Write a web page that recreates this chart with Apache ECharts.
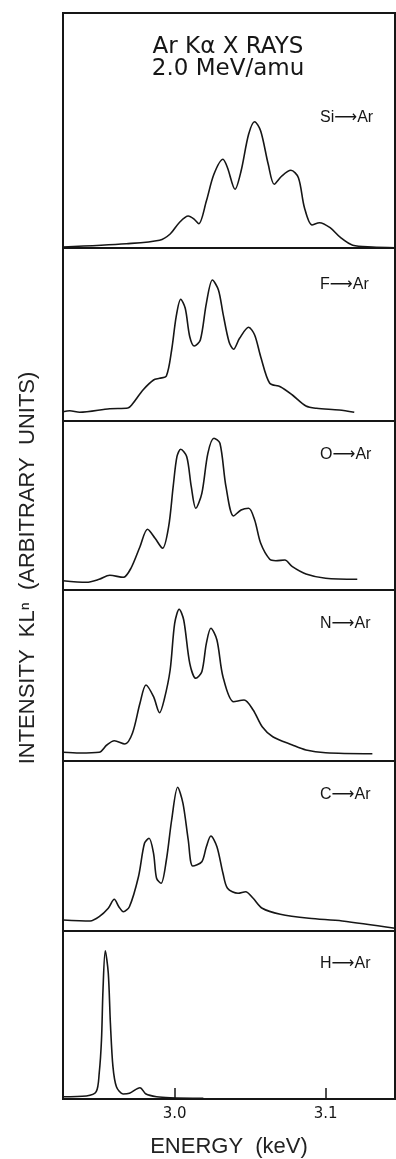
<!DOCTYPE html>
<html>
<head>
<meta charset="utf-8">
<script src="https://cdn.jsdelivr.net/npm/echarts@6.0.0/dist/echarts.min.js"></script>
<style>
  html, body { margin: 0; padding: 0; background: #fff; }
  #chart { width: 396px; height: 1159px; }
</style>
</head>
<body>
<div id="chart"></div>
<script>
  // energy (keV), intensity (arbitrary units)
  let siData = [[2.926, 1], [2.968, 4.3], [2.990, 7.7], [2.997, 14], [3.003, 25.3], [3.009, 32], [3.013, 28.7], [3.016, 24.3], [3.021, 47], [3.026, 73.7], [3.032, 88.7], [3.035, 80.3], [3.040, 58.7], [3.044, 77], [3.049, 113.7], [3.053, 126.3], [3.057, 117], [3.062, 83.7], [3.066, 63.7], [3.071, 72], [3.077, 77.7], [3.082, 70.3], [3.086, 40.3], [3.091, 23], [3.096, 25.3], [3.103, 20.3], [3.110, 10.3], [3.118, 2.7], [3.131, 1], [3.146, 0.3]]
  let fData = [[2.926, 9.3], [2.9305, 10.3], [2.937, 8.7], [2.957, 12.3], [2.969, 13], [2.972, 17], [2.979, 31], [2.986, 41], [2.990, 42.7], [2.9945, 45], [2.998, 71], [3.001, 104.3], [3.004, 121.7], [3.007, 112.7], [3.010, 84.3], [3.013, 75], [3.017, 81], [3.021, 117.7], [3.025, 141], [3.029, 131], [3.032, 107.7], [3.036, 79.3], [3.039, 71.7], [3.043, 82.7], [3.049, 93.7], [3.053, 86], [3.057, 64.3], [3.063, 37.7], [3.070, 34.3], [3.078, 26], [3.087, 15], [3.094, 12.7], [3.109, 11], [3.119, 8.7]]
  let oData = [[2.926, 9.3], [2.9415, 7.7], [2.950, 10.7], [2.957, 14.7], [2.966, 12.7], [2.971, 21.7], [2.977, 43.3], [2.982, 60.7], [2.987, 51.7], [2.992, 41.7], [2.996, 63.3], [2.999, 103.3], [3.0015, 133.3], [3.004, 140.7], [3.008, 133.3], [3.011, 103.3], [3.014, 81.7], [3.018, 96.7], [3.022, 136.7], [3.026, 151.7], [3.030, 146.7], [3.034, 103.3], [3.039, 74], [3.044, 80], [3.049, 81.7], [3.053, 70], [3.057, 46.7], [3.063, 30.7], [3.067, 29.3], [3.073, 30], [3.078, 23.3], [3.087, 16], [3.100, 11.7], [3.121, 10.7]]
  let nData = [[2.926, 8.7], [2.937, 8], [2.950, 8.7], [2.955, 16], [2.960, 20.3], [2.967, 17], [2.972, 27.7], [2.977, 57.7], [2.981, 76], [2.986, 64.3], [2.990, 48.3], [2.993, 61], [2.997, 91], [3.000, 137.7], [3.003, 151.7], [3.006, 141], [3.010, 97.7], [3.014, 82.7], [3.018, 89.3], [3.021, 117.7], [3.024, 132.7], [3.028, 121], [3.032, 84.3], [3.039, 59.3], [3.046, 61], [3.052, 51], [3.058, 34.3], [3.065, 24.3], [3.078, 16], [3.087, 11], [3.100, 8.3], [3.131, 7.3]]
  let cData = [[2.926, 11], [2.944, 10], [2.950, 14.3], [2.956, 22.7], [2.960, 31.7], [2.963, 24.3], [2.966, 19.3], [2.970, 24.3], [2.976, 54.3], [2.980, 87.7], [2.983, 92.7], [2.986, 77.7], [2.988, 52.7], [2.991, 47.7], [2.9945, 71], [2.998, 111], [3.002, 143.7], [3.0055, 127.7], [3.009, 91], [3.012, 65], [3.018, 69.3], [3.021, 84.3], [3.024, 95], [3.028, 84.3], [3.032, 57.7], [3.035, 42.7], [3.042, 37.7], [3.047, 39.3], [3.052, 32.7], [3.058, 22.7], [3.070, 16.7], [3.089, 12.7], [3.111, 10], [3.146, 2.7]]
  let hData = [[2.926, 2.3], [2.9415, 3], [2.948, 7.3], [2.950, 26], [2.9515, 59], [2.9525, 109], [2.954, 148.3], [2.956, 126], [2.9574, 76], [2.9591, 32.3], [2.9614, 12.3], [2.9658, 5], [2.970, 5.7], [2.977, 11.3], [2.981, 5], [2.988, 2.3], [2.997, 1.3], [3.019, 0.7]]

  let panelNames = ['Si', 'F', 'O', 'N', 'C', 'H']
  let tickValues = [3.0, 3.1]

  // layout of the stacked panels (px)
  let panels = [
    { name: panelNames[0], data: siData, top: 13, height: 235, labelY: 118 },
    { name: panelNames[1], data: fData, top: 248, height: 173, labelY: 285 },
    { name: panelNames[2], data: oData, top: 421, height: 169, labelY: 455 },
    { name: panelNames[3], data: nData, top: 590, height: 171, labelY: 624 },
    { name: panelNames[4], data: cData, top: 761, height: 170, labelY: 795 },
    { name: panelNames[5], data: hData, top: 931, height: 168, labelY: 964 }
  ]

  let font = '"Liberation Sans", "DejaVu Sans", sans-serif'
  let wideFont = '"DejaVu Sans", sans-serif'
  let ink = '#161616'

  let option = {
    backgroundColor: '#fff',
    animation: false,
    grid: [],
    xAxis: [],
    yAxis: [],
    series: [],
    graphic: []
  }

  panels.forEach((p, i) => {
    let last = i === panels.length - 1
    option.grid.push({
      left: 63,
      width: 332,
      top: p.top,
      height: p.height,
      outerBoundsMode: 'none',
      containLabel: false,
      show: true,
      borderColor: ink,
      borderWidth: 2,
      backgroundColor: 'transparent'
    })
    option.xAxis.push({
      type: 'value',
      gridIndex: i,
      min: 2.926,
      max: 3.146,
      show: last,
      name: last ? 'ENERGY  (keV)' : '',
      nameLocation: 'middle',
      nameGap: 37,
      nameTextStyle: { fontFamily: font, fontSize: 22, color: '#222' },
      axisLine: { show: false },
      axisTick: {
        show: true,
        inside: true,
        length: 11,
        customValues: tickValues,
        lineStyle: { color: ink, width: 1.5 }
      },
      axisLabel: {
        customValues: tickValues,
        formatter: v => v.toFixed(1),
        fontFamily: wideFont,
        fontSize: 15,
        color: ink,
        margin: 8
      },
      splitLine: { show: false }
    })
    option.yAxis.push({
      type: 'value',
      gridIndex: i,
      min: 0,
      max: p.height,
      show: false
    })
    option.series.push({
      name: p.name,
      type: 'line',
      xAxisIndex: i,
      yAxisIndex: i,
      data: p.data,
      showSymbol: false,
      smooth: 0.3,
      lineStyle: { color: ink, width: 1.6 }
    })
    option.graphic.push({
      type: 'text',
      x: 320,
      y: p.labelY,
      style: {
        text: p.name + '\u27f6Ar',
        font: '16px ' + font,
        fill: ink,
        textVerticalAlign: 'middle',
        verticalAlign: 'middle'
      }
    })
  })

  // title lines
  option.graphic.push({
    type: 'text',
    x: 228,
    y: 47,
    style: { text: 'Ar K\u03b1 X RAYS', font: '23px ' + wideFont, fill: ink, textAlign: 'center', align: 'center', textVerticalAlign: 'middle', verticalAlign: 'middle' }
  })
  option.graphic.push({
    type: 'text',
    x: 228,
    y: 69,
    style: { text: '2.0 MeV/amu', font: '23px ' + wideFont, fill: ink, textAlign: 'center', align: 'center', textVerticalAlign: 'middle', verticalAlign: 'middle' }
  })
  // vertical axis name
  option.graphic.push({
    type: 'text',
    x: 28,
    y: 568,
    rotation: Math.PI / 2,
    style: { text: 'INTENSITY  KL\u207f  (ARBITRARY  UNITS)', font: '22px ' + font, fill: '#222', textAlign: 'center', align: 'center', textVerticalAlign: 'middle', verticalAlign: 'middle' }
  })

  echarts.init(document.getElementById('chart')).setOption(option)
</script>
</body>
</html>
